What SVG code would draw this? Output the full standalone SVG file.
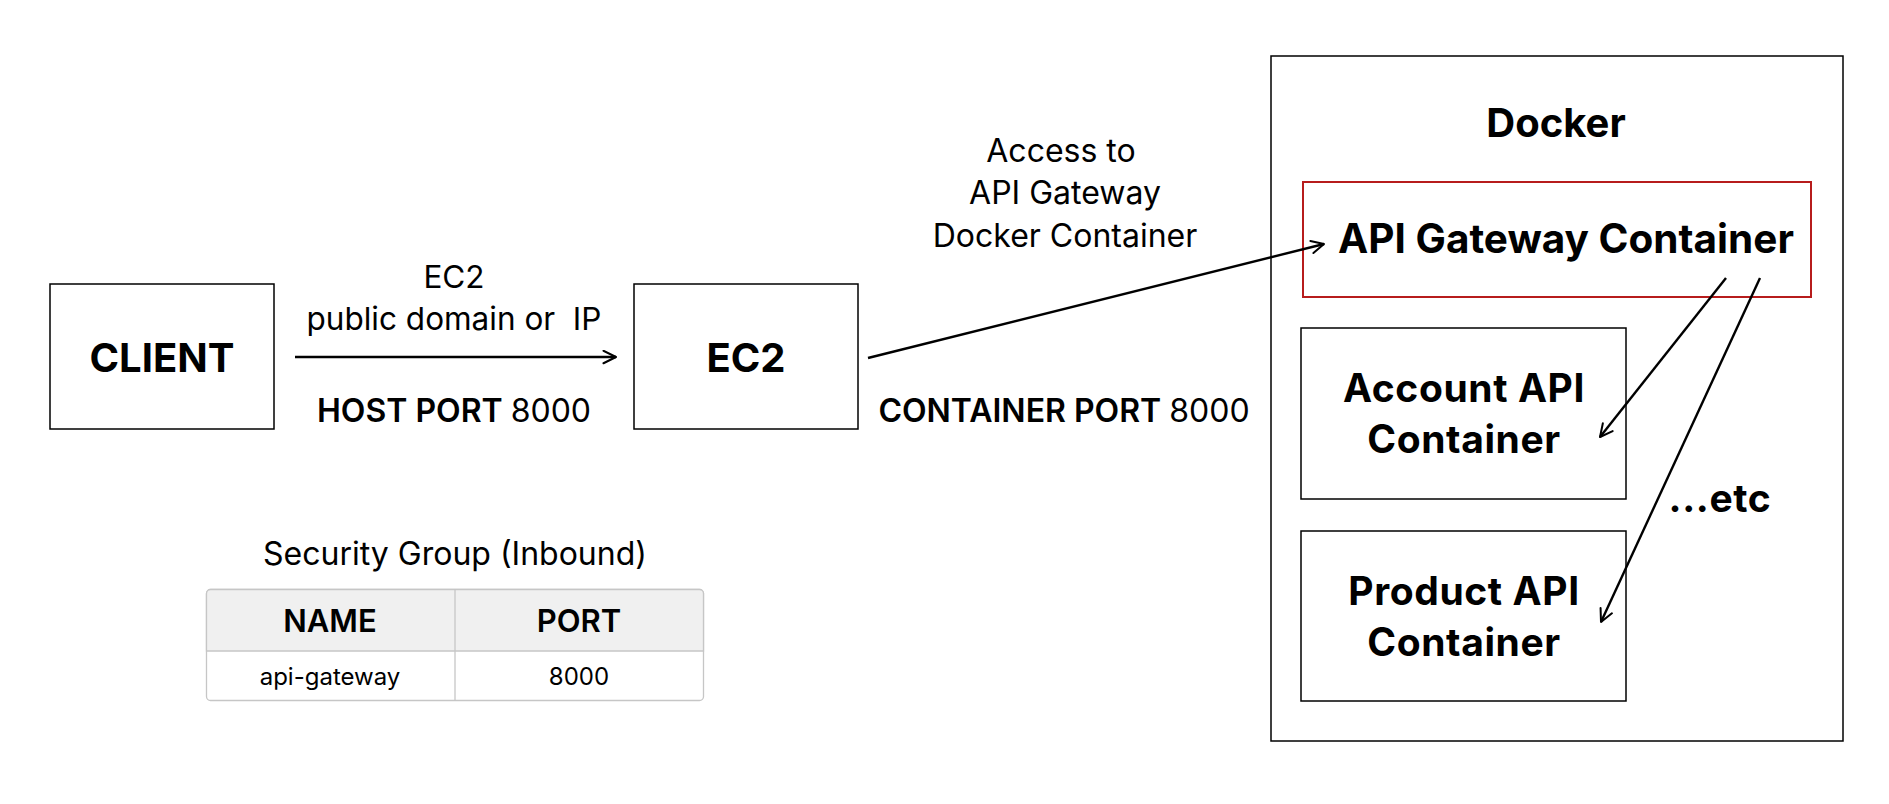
<svg xmlns="http://www.w3.org/2000/svg" width="1889" height="804" viewBox="0 0 1889 804">
<style>
text{font-family:Inter,"Noto Sans","Liberation Sans",sans-serif;fill:#000;text-anchor:middle}
.box{fill:#fff;stroke:#000;stroke-width:1.5}
.red{fill:#fff;stroke:#b71c1c;stroke-width:2}
.big{font-size:40px;font-weight:700}
.mid{font-size:39px;font-weight:700;letter-spacing:0.6px}
.lbl{font-size:31.5px;font-weight:400}
.port{font-size:32px;font-weight:600}
.conn line{stroke:#000;stroke-width:2.4;fill:none}
.th{font-size:31px;font-weight:600}
.td{font-size:24px;font-weight:400}
</style>
<defs>
<marker id="arr" viewBox="0 0 12 12" refX="11" refY="6" markerWidth="15" markerHeight="15" markerUnits="userSpaceOnUse" orient="auto">
<path d="M1,1 L11,6 L1,11" fill="none" stroke="#000" stroke-width="1.6" stroke-linecap="round" stroke-linejoin="round"/>
</marker>
</defs>
<rect width="1889" height="804" fill="#fff"/>
<g id="docker">
<rect class="box" x="1271" y="56" width="572" height="685"/>
<text class="big" x="1556" y="137">Docker</text>
</g>
<g id="client">
<rect class="box" x="50" y="284" width="224" height="145"/>
<text class="big" x="162" y="372">CLIENT</text>
</g>
<g id="ec2">
<rect class="box" x="634" y="284" width="224" height="145"/>
<text class="big" x="746" y="372">EC2</text>
</g>
<g id="api-gateway">
<rect class="red" x="1303" y="182" width="508" height="115"/>
<text class="big" style="font-size:40.5px" x="1566" y="253">API Gateway Container</text>
</g>
<g id="account-api">
<rect class="box" x="1301" y="328" width="325" height="171"/>
<text class="mid" x="1464" y="402">Account API</text>
<text class="mid" x="1464" y="453">Container</text>
</g>
<g id="product-api">
<rect class="box" x="1301" y="531" width="325" height="170"/>
<text class="mid" x="1464" y="605">Product API</text>
<text class="mid" x="1464" y="656">Container</text>
</g>
<g id="etc">
<text class="mid" style="font-size:39px" x="1720" y="512">...etc</text>
</g>
<g id="labels">
<text class="lbl" x="454" y="288">EC2</text>
<text class="lbl" x="454" y="330" xml:space="preserve">public domain or  IP</text>
<text class="port" x="454" y="422">HOST PORT <tspan font-weight="400">8000</tspan></text>
<text class="lbl" style="font-size:32px" x="1061" y="162">Access to</text>
<text class="lbl" style="font-size:32px" x="1065" y="204">API Gateway</text>
<text class="lbl" style="font-size:32px" x="1065" y="247">Docker Container</text>
<text class="port" x="1064" y="422">CONTAINER PORT <tspan font-weight="400">8000</tspan></text>
</g>
<g id="security-group">
<text class="lbl" style="font-size:32px" x="455" y="565">Security Group (Inbound)</text>
<rect x="206.5" y="589.5" width="497" height="111" rx="4" fill="#fff" stroke="#c6c6c6" stroke-width="1.3"/>
<path d="M206.5,651 V593.5 a4,4 0 0 1 4,-4 H699.5 a4,4 0 0 1 4,4 V651 Z" fill="#f0f0f0" stroke="#c6c6c6" stroke-width="1.3"/>
<line x1="455" y1="589.5" x2="455" y2="700.5" stroke="#c6c6c6" stroke-width="1.3"/>
<text class="th" x="330" y="632">NAME</text>
<text class="th" x="579" y="632">PORT</text>
<text class="td" x="330" y="685">api-gateway</text>
<text class="td" x="579" y="685">8000</text>
</g>
<g class="conn" id="connectors">
<line x1="295" y1="357" x2="616" y2="357" marker-end="url(#arr)"/>
<line x1="868" y1="358" x2="1324" y2="244" marker-end="url(#arr)"/>
<line x1="1726" y1="278" x2="1600" y2="437" marker-end="url(#arr)"/>
<line x1="1760" y1="278" x2="1601" y2="622" marker-end="url(#arr)"/>
</g>
</svg>
